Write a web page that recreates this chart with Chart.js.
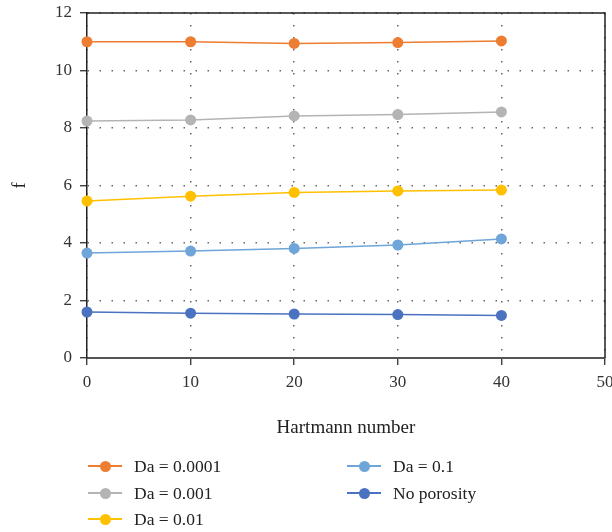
<!DOCTYPE html>
<html>
<head>
<meta charset="utf-8">
<script src="https://cdn.jsdelivr.net/npm/chart.js@4"></script>
<style>
  body { margin: 0; background: #fff; }
  #wrap { position: relative; width: 612px; height: 532px; }
  #legend { position: absolute; left: 0; top: 0; width: 612px; height: 532px; pointer-events: none;
            font-family: "Liberation Serif", serif; font-size: 17.5px; color: #222; }
  .item { position: absolute; height: 20px; line-height: 20px; white-space: nowrap; }
  .item .ln { position: absolute; left: 0; top: 9px; width: 34px; height: 1.5px; }
  .item .dot { position: absolute; left: 12px; top: 5px; width: 11px; height: 11px; border-radius: 50%; }
  .item .tx { position: absolute; left: 46px; top: 0; }
</style>
</head>
<body>
<div id="wrap">
  <canvas id="canvas" width="612" height="532"></canvas>
  <div id="legend"></div>
</div>
<script>
var hartmann = [0, 10, 20, 30, 40];
var da0001 = [11.0, 11.0, 10.94, 10.97, 11.03];
var da001 = [8.24, 8.28, 8.42, 8.47, 8.56];
var da01 = [5.46, 5.63, 5.76, 5.81, 5.84];
var da1 = [3.65, 3.72, 3.81, 3.93, 4.14];
var noPorosity = [1.6, 1.56, 1.53, 1.51, 1.48];
var seriesNames = ["Da = 0.0001", "Da = 0.001", "Da = 0.01", "Da = 0.1", "No porosity"];
var seriesColors = ["#ED7D31", "#B4B4B4", "#FFC000", "#6FA5D8", "#4A72C0"];
var allSeries = [da0001, da001, da01, da1, noPorosity];

var serif = "'Liberation Serif', serif";

var datasets = allSeries.map(function(vals, i) {
    return {
        label: seriesNames[i],
        data: hartmann.map(function(x, j) { return {x: x, y: vals[j]}; }),
        borderColor: seriesColors[i],
        backgroundColor: seriesColors[i],
        pointBackgroundColor: seriesColors[i],
        pointBorderWidth: 0,
        pointRadius: 5.5,
        borderWidth: 1.5,
        tension: 0,
        clip: false
    };
});

// frame on top and right of the plot
var framePlugin = {
    id: 'frame',
    afterDraw: function(chart) {
        var a = chart.chartArea, ctx = chart.ctx;
        ctx.save();
        ctx.strokeStyle = '#222';
        ctx.lineWidth = 1.5;
        ctx.beginPath();
        ctx.moveTo(a.left, a.top);
        ctx.lineTo(a.right, a.top);
        ctx.lineTo(a.right, a.bottom);
        ctx.stroke();
        ctx.restore();
    }
};

var config = {
    type: 'line',
    data: { datasets: datasets },
    options: {
        responsive: false,
        animation: false,
        layout: { padding: { top: 13, right: 7, bottom: 84, left: 0 } },
        plugins: {
            legend: { display: false },
            tooltip: { enabled: false }
        },
        scales: {
            x: {
                type: 'linear',
                min: 0,
                max: 50,
                ticks: { stepSize: 10, color: '#333', padding: 7, font: { family: serif, size: 17 } },
                grid: { color: '#666', lineWidth: 1.5, tickColor: '#222', tickLength: 7, tickWidth: 1.2 },
                border: { color: '#555', width: 2, dash: [1.5, 10.5] },
                title: { display: true, text: 'Hartmann number', color: '#222', padding: { top: 0, bottom: 9 }, font: { family: serif, size: 19 } },
                afterFit: function(scale) { scale.height = 90; scale.paddingLeft = 0; scale.paddingRight = 0; }
            },
            y: {
                min: 0,
                max: 12,
                ticks: { stepSize: 2, color: '#333', padding: 8, font: { family: serif, size: 17 } },
                grid: { color: '#666', lineWidth: 1.5, tickColor: '#222', tickLength: 7, tickWidth: 1.2 },
                border: { color: '#222', width: 1.5, dash: [1.5, 10.5] },
                title: { display: true, text: 'f', color: '#222', padding: { top: 9, bottom: 0 }, font: { family: serif, size: 18 } },
                afterFit: function(scale) { scale.width = 87; scale.paddingTop = 0; scale.paddingBottom = 0; }
            }
        }
    },
    plugins: [framePlugin]
};

// legend laid out in two columns like the figure
var legendPos = [[88, 456], [88, 483], [88, 509], [347, 456], [347, 483]];
var legend = document.getElementById('legend');
seriesNames.forEach(function(name, i) {
    var el = document.createElement('div');
    el.className = 'item';
    el.style.left = legendPos[i][0] + 'px';
    el.style.top = legendPos[i][1] + 'px';
    el.innerHTML = '<span class="ln" style="background:' + seriesColors[i] + '"></span>' +
        '<span class="dot" style="background:' + seriesColors[i] + '"></span>' +
        '<span class="tx">' + name + '</span>';
    legend.appendChild(el);
});

window.onload = function() {
    window.myLine = new Chart(document.getElementById("canvas"), config);
};
</script>
</body>
</html>
